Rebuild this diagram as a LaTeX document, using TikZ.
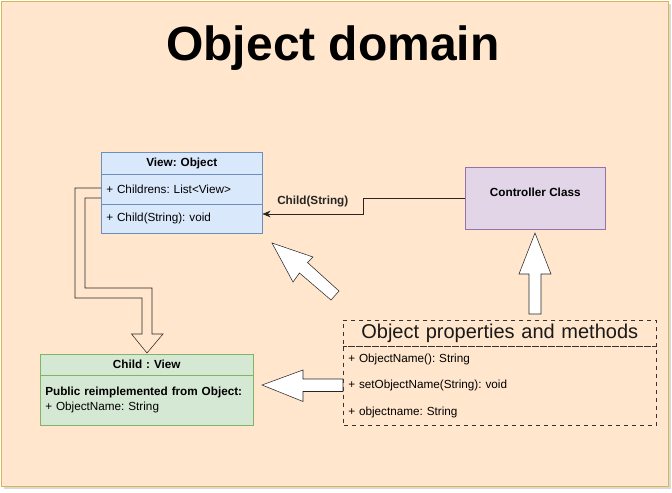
\documentclass[tikz,border=0pt]{standalone}
\usepackage{fontspec}
\setmainfont{Liberation Sans}
\usepackage{xcolor}
\usetikzlibrary{arrows.meta}
\frenchspacing
\definecolor{bgfill}{HTML}{FFE6CC}
\definecolor{bgline}{HTML}{D6B656}
\definecolor{blfill}{HTML}{DAE8FC}
\definecolor{blline}{HTML}{6C8EBF}
\definecolor{grfill}{HTML}{D5E8D4}
\definecolor{grline}{HTML}{82B366}
\definecolor{pufill}{HTML}{E1D5E7}
\definecolor{puline}{HTML}{9673A6}

\begin{document}
\begin{tikzpicture}[x=0.75pt, y=-0.75pt,
      small/.style={font=\fontsize{8.8}{11.25}\selectfont},
      smallb/.style={font=\fontsize{8.8}{11.25}\selectfont\bfseries},
      part/.style={draw, anchor=north west, inner ysep=0pt, inner xsep=3.75pt,
        minimum width=#1, text width=#1-7.5pt, align=left, small},
      headpart/.style={part=#1, align=center, smallb},
      blue/.style={fill=blfill, draw=blline},
      green/.style={fill=grfill, draw=grline},
      block/.style={draw=black!85, fill=white, line join=miter}]
      \useasboundingbox (0,0) rectangle (672,493);
      \fill[black!15] (4,4) rectangle (671,489);
      \draw[bgline, fill=bgfill] (1,1) rectangle (668,486);
      \node[font=\fontsize{36}{40}\selectfont\bfseries] (title) at (333,48) {Object domain};

      % View: Object
      \node[headpart=120.75pt, blue, minimum height=16.5pt] (view) at (101,152) {View: Object};
      \node[part=120.75pt, blue, minimum height=22.5pt] (childrens) at (101,174) {+ Childrens: List<View>};
      \node[part=120.75pt, blue, minimum height=21.75pt] (childfn) at (101,204) {+ Child(String): void};

      % Child : View
      \node[headpart=159.75pt, green, minimum height=15.75pt] (child) at (40,354) {Child : View};
      \node[part=159.75pt, green, minimum height=37.5pt] (childbody) at (40,375)
        {\textbf{Public reimplemented from Object:}\\+ ObjectName: String};

      % Controller Class
      \node[draw=puline, fill=pufill, anchor=north west, minimum width=105pt, minimum height=46.5pt,
        text height=7pt, text depth=10pt, smallb] (ctrl) at (465,167) {Controller Class};

      % Object properties and methods
      \node[part=234.75pt, draw=black!80, dashed, align=center, minimum height=19.5pt,
        font=\fontsize{15}{18}\selectfont, text=black!90] (props) at (343,320) {Object properties and methods};
      \node[part=234.75pt, draw=none, minimum height=19.75pt] (getname) at (343,346) {+ ObjectName(): String};
      \node[part=234.75pt, draw=none, minimum height=19.75pt] (setname) at (343,372.33) {+ setObjectName(String): void};
      \node[part=234.75pt, draw=none, minimum height=19.75pt] (attr) at (343,398.67) {+ objectname: String};
      \draw[black!80, dashed] (props.south west) rectangle (attr.south east);

      \coordinate (bend) at (363,214);
      \draw[black!85, -{Stealth[length=6pt, width=5pt]}] (ctrl.west) -| (bend)
        -- node[above=5pt, inner sep=0pt, smallb]{Child(String)} (bend -| childfn.east);

      % block arrows
      \draw[black!85, line join=miter] (101,188) -- (75,188) -- (75,298) -- (142,298) -- (142,334)
        -- (131.5,334) -- (147,353) -- (163,334) -- (152,334) -- (152,288) -- (85,288) -- (85,198) -- (101,198);
      \draw[block] (272,243) -- (313,257) -- (307.5,262.5) -- (339,291) -- (331,300)
        -- (299.5,273) -- (293,282) -- cycle;
      \draw[block] (262,385) -- (303,370) -- (303,379) -- (343,379) -- (343,391.5)
        -- (303,391.5) -- (303,401.5) -- cycle;
      \draw[block] (535,233) -- (551,274) -- (541,274) -- (541,314) -- (529,314)
        -- (529,274) -- (519,274) -- cycle;
      % \draw[block] (ctrl.south) -- (props.north);
\end{tikzpicture}
\end{document}
